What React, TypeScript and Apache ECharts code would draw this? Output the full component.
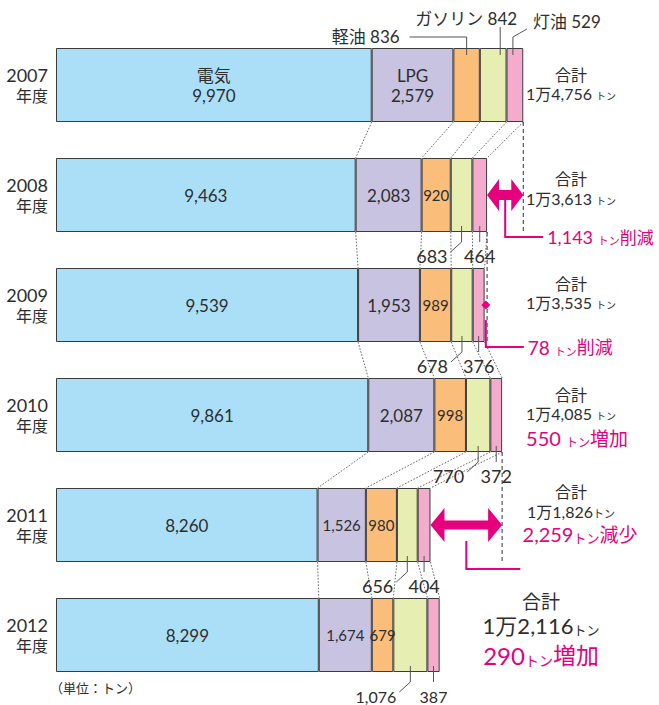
import React, { useEffect, useRef } from "react";
import * as echarts from "echarts";

// ---- data ----
const years = ["2007", "2008", "2009", "2010", "2011", "2012"];
const segmentNames = ["電気", "LPG", "軽油", "ガソリン", "灯油"];
const electricity = [9970, 9463, 9539, 9861, 8260, 8299];
const lpg = [2579, 2083, 1953, 2087, 1526, 1674];
const lightOil = [836, 920, 989, 998, 980, 679];
const gasoline = [842, 683, 678, 770, 656, 1076];
const kerosene = [529, 464, 376, 372, 404, 387];
const totals = [14756, 13613, 13535, 14085, 11826, 12116];
const changeWords = ["", "削減", "削減", "増加", "減少", "増加"];
const unitText = "（単位：トン）";

// ---- style ----
const FONT = "Lato, 'Noto Sans CJK JP', sans-serif";
const FW = 400;
const TEXT = "#2e2e2e";
const MAGENTA = "#e6007e";
const colors = ["#abdff8", "#c7c3e1", "#fabd7a", "#e7eeb1", "#f4accd"];
const BAR_W = 74;
const HB = BAR_W / 2;

const fmt = (v: number) => v.toLocaleString("en-US");
const fmtMan = (v: number) => `${Math.floor(v / 10000)}万${fmt(v % 10000)}`;

const segs = [electricity, lpg, lightOil, gasoline, kerosene];
const cums = years.map((_, i) => {
  let s = 0;
  const a = [0];
  segs.forEach((arr) => {
    s += arr[i];
    a.push(s);
  });
  return a;
});

// connectors between consecutive bars (segment boundaries)
const connectorData: number[][] = [];
for (let i = 0; i < years.length - 1; i++) {
  for (let k = 1; k <= 5; k++) connectorData.push([cums[i][k], i, cums[i + 1][k], i + 1]);
}
// previous-total reference lines for decreasing years
const prevLineData: number[][] = [];
for (let i = 1; i < years.length; i++) {
  if (totals[i] < totals[i - 1]) prevLineData.push([cums[i - 1][5], i - 1, i]);
}

function labelFor(k: number, i: number, v: number): any {
  if (k === 0) return { show: true, formatter: i === 0 ? `${segmentNames[0]}\n${fmt(v)}` : fmt(v) };
  if (k === 1)
    return {
      show: true,
      formatter: i === 0 ? `${segmentNames[1]}\n${fmt(v)}` : fmt(v),
      ...(i >= 4 ? { fontSize: 15 } : {}),
    };
  if (k === 2 && i > 0) return { show: true, formatter: fmt(v), fontSize: 15 };
  return { show: false };
}

const option: any = {
  animation: false,
  grid: { left: 56, top: 30, width: 570, height: 660 },
  xAxis: { type: "value", min: 0, max: 18000, show: false },
  yAxis: {
    type: "category",
    data: years,
    inverse: true,
    axisLine: { show: false },
    axisTick: { show: false },
    splitLine: { show: false },
    axisLabel: {
      margin: 8,
      formatter: (v: string) => `{y|${v}}\n{n|年度}`,
      rich: {
        y: { fontSize: 18, lineHeight: 20, color: TEXT, fontFamily: FONT, fontWeight: FW, align: "right" },
        n: { fontSize: 16, lineHeight: 20, color: TEXT, fontFamily: FONT, fontWeight: FW, align: "right" },
      },
    },
  },
  series: [
    ...segs.map((arr, k) => ({
      type: "bar",
      name: segmentNames[k],
      stack: "total",
      barWidth: BAR_W,
      itemStyle: { color: colors[k], borderColor: "#3c3c3c", borderWidth: 1 },
      label: {
        show: false,
        position: "inside",
        color: TEXT,
        fontSize: 17,
        lineHeight: 20,
        fontFamily: FONT,
        fontWeight: FW,
      },
      data: arr.map((v, i) => ({ value: v, label: labelFor(k, i, v) })),
      z: 2,
    })),
    {
      type: "custom",
      silent: true,
      encode: { x: [0, 2], y: [1, 3] },
      data: connectorData,
      z: 1,
      renderItem: (_p: any, api: any) => {
        const p1 = api.coord([api.value(0), api.value(1)]);
        const p2 = api.coord([api.value(2), api.value(3)]);
        return {
          type: "line",
          shape: { x1: p1[0], y1: p1[1] + HB, x2: p2[0], y2: p2[1] - HB },
          style: { stroke: "#555", lineWidth: 0.9, lineDash: [1.6, 1.6] },
        };
      },
    },
    {
      type: "custom",
      silent: true,
      encode: { x: [0], y: [1, 2] },
      data: prevLineData,
      z: 1,
      renderItem: (_p: any, api: any) => {
        const p1 = api.coord([api.value(0), api.value(1)]);
        const p2 = api.coord([api.value(0), api.value(2)]);
        return {
          type: "line",
          shape: { x1: p1[0], y1: p1[1] + HB, x2: p2[0], y2: p2[1] + HB },
          style: { stroke: "#333", lineWidth: 1, lineDash: [4, 3] },
        };
      },
    },
  ],
};

// annotation layout (positions only)
const totalLayout: any[] = [
  { x: 571, d1: -11, d2: 8, f1: 16, f2: 16, fu: 10, sp: " " },
  { x: 571, d1: -17, d2: 3, f1: 16, f2: 16, fu: 10, sp: " " },
  { x: 571, d1: -22, d2: -3, f1: 16, f2: 16, fu: 10, sp: " " },
  { x: 571, d1: -21, d2: -2, f1: 16, f2: 16, fu: 10, sp: " ", m: { x: 577, dy: 23, f: 20, fu: 12, sp: " " } },
  { x: 571, d1: -34, d2: -14, f1: 16, f2: 16, fu: 11, sp: "", m: { x: 580, dy: 9, f: 20, fu: 13, sp: "" } },
  { x: 541, d1: -34, d2: -10, f1: 19, f2: 22, fu: 13, sp: "", m: { x: 541, dy: 20, f: 24, fu: 14, sp: "" } },
];
const decreaseLayout: Record<number, any> = {
  1: { H: 32, L: 12, T: 10, startDy: 4, endDx: 38, bottomDy: 5, text: { dx: 42, f: 18, fu: 11, sp: " " } },
  2: { H: 9, L: 4.5, T: 3, startDy: 15, endDx: 38, bottomDy: 5, text: { dx: 42, f: 19, fu: 11, sp: " " } },
  4: { H: 34, L: 14, T: 9, startDy: 16, endDx: 54, bottomDy: 7 },
};

function txt(text: string, x: number, y: number, align: string, fontSize: number, extra: any = {}) {
  return {
    type: "text",
    x,
    y,
    z: 20,
    silent: true,
    style: {
      text,
      fill: TEXT,
      fontSize,
      fontFamily: FONT,
      fontWeight: FW,
      align,
      verticalAlign: "middle",
      ...extra,
    },
  };
}
function pline(points: number[][], stroke = "#555", lineWidth = 1) {
  return { type: "polyline", z: 20, silent: true, shape: { points }, style: { stroke, lineWidth, fill: null } };
}
function dArrow(xa: number, xb: number, y: number, H: number, L: number, T: number) {
  let w = xb - xa;
  if (w < 9) {
    const m = (xa + xb) / 2;
    xa = m - 4.5;
    xb = m + 4.5;
    w = 9;
  }
  if (w < 2 * L) L = w / 2;
  const pts = [
    [xa, y],
    [xa + L, y - H / 2],
    [xa + L, y - T / 2],
    [xb - L, y - T / 2],
    [xb - L, y - H / 2],
    [xb, y],
    [xb - L, y + H / 2],
    [xb - L, y + T / 2],
    [xa + L, y + T / 2],
    [xa + L, y + H / 2],
  ];
  return { type: "polygon", z: 20, silent: true, shape: { points: pts }, style: { fill: MAGENTA } };
}

function richSet(color: string, f: number, fu: number, fk: number) {
  return {
    n: { fontSize: f, fontFamily: FONT, fontWeight: FW, fill: color },
    u: { fontSize: fu, fontFamily: FONT, fontWeight: FW, fill: color, verticalAlign: "bottom" },
    k: { fontSize: fk, fontFamily: FONT, fontWeight: FW, fill: color },
  };
}

function buildGraphics(chart: any) {
  const P = (v: number, i: number) => chart.convertToPixel({ gridIndex: 0 }, [v, i]) as number[];
  const cy = (i: number) => P(0, i)[1];
  const sx = (i: number, k: number) => P(cums[i][k], i)[0];
  const mid = (i: number, k: number) => (sx(i, k) + sx(i, k + 1)) / 2;
  const els: any[] = [];

  // top labels for first year
  const t0 = cy(0) - HB;
  const oc = mid(0, 2), gc = mid(0, 3), pc = mid(0, 4);
  els.push(txt(`${segmentNames[2]} ${fmt(lightOil[0])}`, oc - 67, 36, "right", 17));
  els.push(pline([[oc - 57, 37], [oc, 37], [oc, t0 + 7]]));
  els.push(txt(`${segmentNames[3]} ${fmt(gasoline[0])}`, gc - 27, 18, "center", 17));
  els.push(pline([[gc + 7, 27], [gc + 7, t0 + 7]]));
  els.push(txt(`${segmentNames[4]} ${fmt(kerosene[0])}`, pc + 18, 21, "left", 17));
  els.push(pline([[pc + 12, 29], [pc - 2, 37], [pc - 2, t0 + 7]]));

  // below labels
  for (let i = 1; i < years.length; i++) {
    const b = cy(i) + HB;
    const g = mid(i, 3), p = mid(i, 4);
    const small = i === years.length - 1;
    const fs = small ? 16 : 18;
    els.push(pline([[g, b - 6], [g, b + 10], [g - 11, b + 20]]));
    els.push(txt(fmt(gasoline[i]), g - 14, b + 24, "right", fs));
    els.push(pline([[p, b - 6], [p, b + 10]]));
    els.push(txt(fmt(kerosene[i]), p, b + 24, "center", fs));
  }

  // totals
  totalLayout.forEach((L, i) => {
    const c = cy(i);
    els.push(txt("合計", L.x, c + L.d1, "center", L.f1));
    els.push(
      txt(`{n|${fmtMan(totals[i])}}${L.sp}{u|トン}`, L.x, c + L.d2, "center", L.f2, {
        rich: richSet(TEXT, L.f2, L.fu, L.f2),
      })
    );
    if (L.m) {
      const d = totals[i] - totals[i - 1];
      els.push(
        txt(`{n|${fmt(Math.abs(d))}}${L.m.sp}{u|トン}{k|${changeWords[i]}}`, L.m.x, c + L.m.dy, "center", L.m.f, {
          fill: MAGENTA,
          rich: richSet(MAGENTA, L.m.f, L.m.fu, L.m.f - 1),
        })
      );
    }
  });

  // decrease arrows + brackets
  Object.keys(decreaseLayout).forEach((key) => {
    const i = Number(key);
    const D = decreaseLayout[i];
    const c = cy(i);
    const b = c + HB;
    const xa = sx(i, 5);
    const xb = sx(i - 1, 5);
    const m = (xa + xb) / 2;
    els.push(dArrow(xa, xb, c, D.H, D.L, D.T));
    els.push(pline([[m, c + D.startDy], [m, b + D.bottomDy], [m + D.endDx, b + D.bottomDy]], MAGENTA, 2));
    if (D.text) {
      const d = totals[i] - totals[i - 1];
      els.push(
        txt(
          `{n|${fmt(Math.abs(d))}}${D.text.sp}{u|トン}{k|${changeWords[i]}}`,
          m + D.text.dx,
          b + D.bottomDy,
          "left",
          D.text.f,
          { fill: MAGENTA, rich: richSet(MAGENTA, D.text.f, D.text.fu, D.text.f - 1) }
        )
      );
    }
  });

  els.push(txt(unitText, 50, 688, "left", 13));
  return els;
}

export default function App() {
  const ref = useRef<HTMLDivElement>(null);
  useEffect(() => {
    document.body.style.margin = "0";
    const chart = echarts.init(ref.current!, null, { renderer: "svg" });
    chart.setOption(option);
    chart.setOption({ graphic: { elements: buildGraphics(chart) } });
    return () => chart.dispose();
  }, []);
  return <div ref={ref} style={{ width: 659, height: 705 }} />;
}
